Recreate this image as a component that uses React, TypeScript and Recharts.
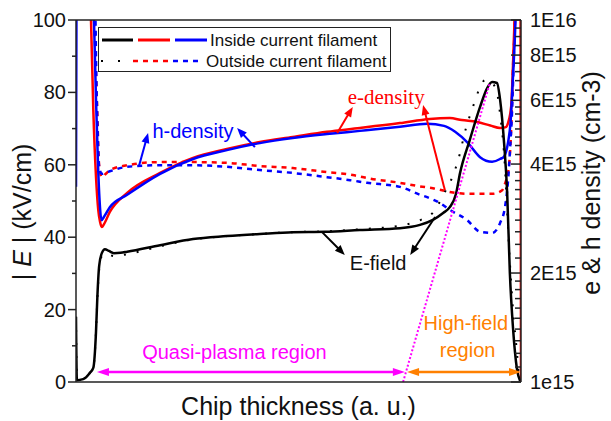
import React from 'react';
import {
  ComposedChart,
  Line,
  XAxis,
  YAxis,
  ReferenceLine,
  ReferenceDot,
  Legend,
} from 'recharts';

const SANS = '"Liberation Sans", Arial, sans-serif';
const SERIF = '"Liberation Serif", "Times New Roman", serif';
const AXIS = '#222';
const RED = '#ff0000';
const BLUE = '#0000ff';
const MAGENTA = '#ff00ff';
const ORANGE = '#ff8000';
const TITLE_SIZE = 25;

// chip thickness (a. u., 0..1) vs |E| in kV/cm
const eFieldInX = [0, 0.002, 0.016, 0.031, 0.039, 0.045, 0.048, 0.052, 0.058, 0.065, 0.074, 0.085, 0.1, 0.115, 0.189, 0.263, 0.339, 0.413, 0.487, 0.56, 0.638, 0.728, 0.773, 0.802, 0.825, 0.84, 0.854, 0.863, 0.885, 0.908, 0.924, 0.935, 0.946, 0.953, 0.962, 0.969, 0.975, 0.982, 0.991, 0.998];
const eFieldIn = [18, 0.5, 0.8, 2.5, 4, 14, 23.5, 32, 35.6, 36.7, 36.2, 35.6, 35.7, 36, 37.8, 39.5, 40.3, 40.9, 41.4, 41.5, 42, 42.5, 43.4, 44.8, 46.7, 48.3, 52, 57.7, 66.9, 76, 81.2, 82.9, 82.6, 78, 66, 52, 30, 15, 3.5, 0.3];
const eFieldOutX = [0, 0.002, 0.016, 0.031, 0.039, 0.045, 0.048, 0.052, 0.058, 0.065, 0.074, 0.085, 0.1, 0.115, 0.189, 0.263, 0.339, 0.413, 0.487, 0.56, 0.638, 0.728, 0.775, 0.8, 0.829, 0.847, 0.858, 0.877, 0.892, 0.905, 0.919, 0.933, 0.946, 0.953, 0.962, 0.975, 0.982, 0.991, 0.996];
const eFieldOut = [18, 0.5, 0.8, 2.5, 4, 14, 23, 31, 34.8, 35.5, 35.2, 34.8, 35, 35.3, 37.5, 39.4, 40.3, 40.9, 41.4, 41.6, 42.2, 43.2, 44.8, 46.5, 52.5, 57, 61, 70.4, 76, 80.5, 83.4, 82.8, 80, 74, 63, 33, 20, 8, 0.5];

// carrier densities, in units of 1e15 cm-3
const DENSITY_UNIT = 1e15;
const eDensInX = [0, 0.03, 0.0337, 0.0389, 0.045, 0.05, 0.054, 0.058, 0.063, 0.076, 0.115, 0.189, 0.263, 0.339, 0.413, 0.487, 0.564, 0.638, 0.728, 0.795, 0.84, 0.867, 0.901, 0.931, 0.953, 0.966, 0.971, 0.978, 0.982, 0.9855, 0.993, 0.9985, 1];
const eDensIn = [40, 13, 10, 5.64, 3.68, 2.99, 2.77, 2.68, 2.73, 2.95, 3.33, 3.78, 4.16, 4.4, 4.6, 4.75, 4.91, 5.03, 5.19, 5.33, 5.36, 5.29, 5.23, 5.11, 5.03, 5.06, 5.2, 5.78, 7.5, 10, 20, 40, 1];
const hDensInX = [0, 0.002, 0.02, 0.036, 0.0404, 0.045, 0.0494, 0.0528, 0.0573, 0.063, 0.076, 0.115, 0.189, 0.263, 0.339, 0.413, 0.487, 0.564, 0.638, 0.728, 0.789, 0.827, 0.852, 0.881, 0.908, 0.935, 0.953, 0.962, 0.971, 0.9764, 0.982, 0.9876, 0.995, 1];
const hDensIn = [3.46, 30, 50, 14, 10, 6, 4, 3.2, 2.8, 2.86, 3.04, 3.29, 3.76, 4.13, 4.37, 4.57, 4.72, 4.84, 4.94, 5.07, 5.17, 5.1, 4.91, 4.57, 4.18, 4.06, 4.13, 4.2, 4.6, 5.19, 7, 10, 30, 40];
const eDensOutX = [0, 0.035, 0.0405, 0.047, 0.052, 0.058, 0.067, 0.076, 0.115, 0.189, 0.263, 0.339, 0.413, 0.487, 0.564, 0.622, 0.654, 0.728, 0.773, 0.802, 0.84, 0.879, 0.935, 0.957, 0.966, 0.971, 0.9775, 0.982, 0.9865, 0.995, 1];
const eDensOut = [40, 12, 10, 6, 3.97, 3.68, 3.76, 3.85, 3.97, 4.05, 4.05, 4.03, 3.95, 3.9, 3.8, 3.73, 3.66, 3.55, 3.47, 3.43, 3.35, 3.31, 3.31, 3.38, 3.59, 3.78, 4.87, 7.4, 10, 30, 40];
const hDensOutX = [0, 0.04, 0.0438, 0.045, 0.048, 0.052, 0.058, 0.07, 0.076, 0.115, 0.189, 0.263, 0.339, 0.413, 0.487, 0.564, 0.616, 0.654, 0.728, 0.773, 0.789, 0.818, 0.84, 0.879, 0.908, 0.935, 0.953, 0.964, 0.971, 0.9753, 0.98, 0.9843, 0.9865, 0.995, 1];
const hDensOut = [40, 13, 10, 7.75, 5.2, 3.93, 3.76, 3.8, 3.82, 3.93, 3.97, 3.97, 3.93, 3.85, 3.78, 3.68, 3.61, 3.55, 3.46, 3.29, 3.24, 3.12, 2.99, 2.8, 2.6, 2.58, 2.75, 3.04, 3.61, 4.37, 5.64, 8.26, 10, 30, 40];

// axis ticks
const fieldTicks = [0, 10, 20, 30, 40, 50, 60, 70, 80, 90, 100];
const fieldMajor = [0, 20, 40, 60, 80, 100];
const densityMajor = [1e15, 2e15, 4e15, 6e15, 8e15, 1e16];
const densityLabels = ['1e15', '2E15', '4E15', '6E15', '8E15', '1E16'];
const densityMinor = [1.1, 1.2, 1.3, 1.4, 1.5, 1.6, 1.7, 1.8, 1.9, 2.2, 2.4, 2.6, 2.8, 3, 3.2, 3.4, 3.6, 3.8, 4.25, 4.5, 4.75, 5, 5.25, 5.5, 5.75, 6.4, 6.8, 7.2, 7.6, 8.5, 9, 9.5].map((m) => m * DENSITY_UNIT);

const rows = (xs: number[], ys: number[], k = 1) => xs.map((x, i) => ({ x, v: ys[i] * k }));

const LeftTick = (p: any) => {
  const v = p.payload.value;
  const major = fieldMajor.includes(v);
  return (
    <g>
      <line x1={p.x} x2={p.x - (major ? 8 : 4)} y1={p.y} y2={p.y} stroke={AXIS} strokeWidth={1.5} />
      {major && (
        <text x={p.x - 10} y={p.y} textAnchor="end" dominantBaseline="central" fontSize={20} fontFamily={SANS} fill="#111">
          {v}
        </text>
      )}
    </g>
  );
};

const RightTick = (p: any) => {
  const v = p.payload.value;
  const idx = densityMajor.indexOf(v);
  return (
    <g>
      <line x1={p.x} x2={p.x - (idx >= 0 ? 10 : 6)} y1={p.y} y2={p.y} stroke={AXIS} strokeWidth={1.5} />
      {idx >= 0 && (
        <text x={p.x + 9} y={p.y} textAnchor="start" dominantBaseline="central" fontSize={20} fontFamily={SANS} fill="#111">
          {densityLabels[idx]}
        </text>
      )}
    </g>
  );
};

const xTitle = ({ viewBox }: any) => (
  <text x={viewBox.x + viewBox.width / 2} y={viewBox.y + 24} textAnchor="middle" dominantBaseline="central" fontSize={TITLE_SIZE} fontFamily={SANS} fill="#111">
    Chip thickness (a. u.)
  </text>
);

const leftTitle = ({ viewBox }: any) => {
  const x = viewBox.x + 22;
  const y = viewBox.y + 192;
  return (
    <text x={x} y={y} transform={`rotate(-90, ${x}, ${y})`} textAnchor="middle" dominantBaseline="central" fontSize={TITLE_SIZE} fontFamily={SANS} fill="#111">
      <tspan>| </tspan>
      <tspan fontStyle="italic">E</tspan>
      <tspan> | (kV/cm)</tspan>
    </text>
  );
};

const rightTitle = ({ viewBox }: any) => {
  const x = viewBox.x + 70;
  const y = viewBox.y + 163;
  return (
    <text x={x} y={y} transform={`rotate(-90, ${x}, ${y})`} textAnchor="middle" dominantBaseline="central" fontSize={TITLE_SIZE} fontFamily={SANS} fill="#111">
      e &amp; h density (cm-3)
    </text>
  );
};

// arrow drawn along a reference segment, head at the second point (and the first if both)
const arrow = (color: string, both = false, head = 10, half = 4, width = 2) => (p: any) => {
  const { x1, y1, x2, y2 } = p;
  const len = Math.hypot(x2 - x1, y2 - y1) || 1;
  const ux = (x2 - x1) / len;
  const uy = (y2 - y1) / len;
  const tri = (tx: number, ty: number, sx: number, sy: number) => {
    const bx = tx - sx * head;
    const by = ty - sy * head;
    return `${tx},${ty} ${bx - sy * half},${by + sx * half} ${bx + sy * half},${by - sx * half}`;
  };
  return (
    <g>
      <line
        x1={both ? x1 + ux * head * 0.8 : x1}
        y1={both ? y1 + uy * head * 0.8 : y1}
        x2={x2 - ux * head * 0.8}
        y2={y2 - uy * head * 0.8}
        stroke={color}
        strokeWidth={width}
      />
      <polygon points={tri(x2, y2, ux, uy)} fill={color} />
      {both && <polygon points={tri(x1, y1, -ux, -uy)} fill={color} />}
    </g>
  );
};

const note = (text: string, color: string, family = SANS, size = 20) => (p: any) => (
  <text x={p.cx} y={p.cy} textAnchor="middle" dominantBaseline="central" fill={color} fontSize={size} fontFamily={family}>
    {text}
  </text>
);

const LegendBox = () => (
  <svg width={293} height={45} style={{ display: 'block' }}>
    <rect x={0.5} y={0.5} width={292} height={44} fill="#fff" stroke={AXIS} strokeWidth={1} />
    <line x1={4} x2={35} y1={13} y2={13} stroke="#000" strokeWidth={3} />
    <line x1={40} x2={72} y1={13} y2={13} stroke={RED} strokeWidth={3} />
    <line x1={77} x2={109} y1={13} y2={13} stroke={BLUE} strokeWidth={3} />
    <text x={112} y={13} dominantBaseline="central" fontSize={17} fontFamily={SANS} fill="#111">
      Inside current filament
    </text>
    <line x1={3} x2={30} y1={34} y2={34} stroke="#000" strokeWidth={2} strokeDasharray="2 15" />
    <line x1={35} x2={72} y1={34} y2={34} stroke={RED} strokeWidth={2.5} strokeDasharray="5 5" />
    <line x1={75} x2={104} y1={34} y2={34} stroke={BLUE} strokeWidth={2.5} strokeDasharray="5 5" />
    <text x={108} y={34} dominantBaseline="central" fontSize={17} fontFamily={SANS} fill="#111">
      Outside current filament
    </text>
  </svg>
);

export default function App() {
  return (
    <div style={{ position: 'absolute', left: 0, top: 0 }}>
      <ComposedChart width={611} height={421} margin={{ top: 20, right: 0, bottom: 0, left: 0 }}>
        <XAxis
          dataKey="x"
          type="number"
          domain={[0, 1]}
          allowDataOverflow
          tick={false}
          tickLine={false}
          axisLine={{ stroke: AXIS, strokeWidth: 1.5 }}
          height={39}
          label={xTitle}
        />
        <YAxis
          yAxisId="left"
          type="number"
          domain={[0, 100]}
          allowDataOverflow
          ticks={fieldTicks}
          interval={0}
          tick={LeftTick}
          tickLine={false}
          tickSize={0}
          tickMargin={0}
          axisLine={{ stroke: AXIS, strokeWidth: 1.5 }}
          width={76}
          label={leftTitle}
        />
        <YAxis
          yAxisId="right"
          orientation="right"
          type="number"
          scale="log"
          domain={[1e15, 1e16]}
          allowDataOverflow
          ticks={[...densityMajor, ...densityMinor]}
          interval={0}
          tick={RightTick}
          tickLine={false}
          tickSize={0}
          tickMargin={0}
          axisLine={{ stroke: AXIS, strokeWidth: 1.5 }}
          width={90}
          label={rightTitle}
        />
        <Legend
          layout="vertical"
          align="center"
          verticalAlign="middle"
          content={() => <LegendBox />}
          wrapperStyle={{ left: 98, top: 27, width: 293, height: 45 }}
        />

        <Line yAxisId="right" data={rows(eDensOutX, eDensOut, DENSITY_UNIT)} dataKey="v" type="monotone" stroke={RED} strokeWidth={2.5} strokeDasharray="5 5" dot={false} activeDot={false} isAnimationActive={false} />
        <Line yAxisId="right" data={rows(hDensOutX, hDensOut, DENSITY_UNIT)} dataKey="v" type="monotone" stroke={BLUE} strokeWidth={2.5} strokeDasharray="5 5" dot={false} activeDot={false} isAnimationActive={false} />
        <Line yAxisId="right" data={rows(eDensInX, eDensIn, DENSITY_UNIT)} dataKey="v" type="monotone" stroke={RED} strokeWidth={2.5} dot={false} activeDot={false} isAnimationActive={false} />
        <Line yAxisId="right" data={rows(hDensInX, hDensIn, DENSITY_UNIT)} dataKey="v" type="monotone" stroke={BLUE} strokeWidth={2.5} dot={false} activeDot={false} isAnimationActive={false} />
        <Line yAxisId="left" data={rows(eFieldOutX, eFieldOut)} dataKey="v" type="monotone" stroke="#000" strokeWidth={2} strokeDasharray="2 11" dot={false} activeDot={false} isAnimationActive={false} />
        <Line yAxisId="left" data={rows(eFieldInX, eFieldIn)} dataKey="v" type="monotone" stroke="#000" strokeWidth={2.5} dot={false} activeDot={false} isAnimationActive={false} />

        <ReferenceLine yAxisId="left" y={100} stroke={AXIS} strokeWidth={1.5} />
        <ReferenceLine yAxisId="left" segment={[{ x: 0.735, y: 0 }, { x: 0.93, y: 82.6 }]} stroke={MAGENTA} strokeWidth={2} strokeDasharray="2 2" ifOverflow="visible" />

        <ReferenceLine yAxisId="left" segment={[{ x: 0.1416, y: 59.7 }, { x: 0.162, y: 68.8 }]} shape={arrow(BLUE)} ifOverflow="visible" />
        <ReferenceLine yAxisId="left" segment={[{ x: 0.402, y: 64.9 }, { x: 0.362, y: 70.2 }]} shape={arrow(BLUE)} ifOverflow="visible" />
        <ReferenceLine yAxisId="left" segment={[{ x: 0.587, y: 68.8 }, { x: 0.622, y: 76 }]} shape={arrow(RED)} ifOverflow="visible" />
        <ReferenceLine yAxisId="left" segment={[{ x: 0.829, y: 53 }, { x: 0.78, y: 76.5 }]} shape={arrow(RED)} ifOverflow="visible" />
        <ReferenceLine yAxisId="left" segment={[{ x: 0.553, y: 41.4 }, { x: 0.604, y: 35.1 }]} shape={arrow('#000')} ifOverflow="visible" />
        <ReferenceLine yAxisId="left" segment={[{ x: 0.807, y: 45.6 }, { x: 0.751, y: 35.1 }]} shape={arrow('#000')} ifOverflow="visible" />
        <ReferenceLine yAxisId="left" segment={[{ x: 0.047, y: 2.76 }, { x: 0.739, y: 2.76 }]} shape={arrow(MAGENTA, true, 12, 4, 2.5)} ifOverflow="visible" />
        <ReferenceLine yAxisId="left" segment={[{ x: 0.744, y: 2.76 }, { x: 1, y: 2.76 }]} shape={arrow(ORANGE, true, 12, 4, 2.5)} ifOverflow="visible" />

        <ReferenceDot yAxisId="left" x={0.263} y={69.3} shape={note('h-density', BLUE)} ifOverflow="visible" />
        <ReferenceDot yAxisId="left" x={0.697} y={78.7} shape={note('e-density', RED, SERIF, 21)} ifOverflow="visible" />
        <ReferenceDot yAxisId="left" x={0.679} y={32.9} shape={note('E-field', '#111')} ifOverflow="visible" />
        <ReferenceDot yAxisId="left" x={0.356} y={8.3} shape={note('Quasi-plasma region', MAGENTA)} ifOverflow="visible" />
        <ReferenceDot yAxisId="left" x={0.876} y={16.3} shape={note('High-field', ORANGE)} ifOverflow="visible" />
        <ReferenceDot yAxisId="left" x={0.88} y={8.8} shape={note('region', ORANGE)} ifOverflow="visible" />
      </ComposedChart>
    </div>
  );
}
